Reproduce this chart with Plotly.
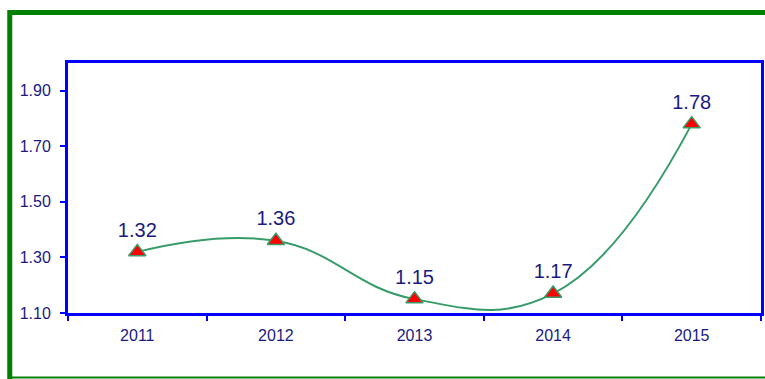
import plotly.graph_objects as go

years = ["2011", "2012", "2013", "2014", "2015"]
values = [1.32, 1.36, 1.15, 1.17, 1.78]
labels = ["1.32", "1.36", "1.15", "1.17", "1.78"]
y_ticks = [1.10, 1.30, 1.50, 1.70, 1.90]

W, H = 765, 379
L, T, R, B = 68, 63, 1, 66
pw = W - L - R
ph = H - T - B

def px_x(p):
    return (p - L) / pw

def px_y(p):
    return (H - B - p) / ph

fig = go.Figure()
fig.add_trace(go.Scatter(
    x=years, y=values, mode="lines+markers+text",
    line=dict(color="#389c6a", width=2, shape="spline", smoothing=1.25),
    marker=dict(symbol="triangle-up", size=15, color="#ff0000",
                line=dict(color="#389c6a", width=1.5)),
    text=labels, textposition="top center",
    textfont=dict(family="Liberation Sans, Arial", size=20, color="#1a1a80"),
    cliponaxis=False, showlegend=False, hoverinfo="skip",
))

# green frame
fig.add_shape(type="line", xref="paper", yref="paper",
              x0=px_x(9.5), x1=px_x(790), y0=px_y(12.5), y1=px_y(12.5),
              line=dict(color="#008000", width=5))
fig.add_shape(type="line", xref="paper", yref="paper",
              x0=px_x(9.5), x1=px_x(9.5), y0=px_y(10), y1=px_y(400),
              line=dict(color="#008000", width=5))
fig.add_shape(type="line", xref="paper", yref="paper",
              x0=px_x(9.5), x1=px_x(790), y0=px_y(377.5), y1=px_y(377.5),
              line=dict(color="#008000", width=2))

fig.update_layout(
    width=W, height=H,
    margin=dict(l=L, r=R, t=T, b=B),
    paper_bgcolor="white", plot_bgcolor="white",
    font=dict(family="Liberation Sans, Arial", color="#1a1a80"),
    xaxis=dict(
        type="category", range=[-0.5, 4.5], showgrid=False,
        showline=True, linecolor="#0000ff", linewidth=3, mirror=True,
        ticks="outside", tickson="boundaries", ticklen=5, tickcolor="#0000ff", tickwidth=2,
        tickfont=dict(size=16, color="#1a1a80"), ticklabelstandoff=6,
    ),
    yaxis=dict(
        range=[1.10, 2.0], tickvals=y_ticks, ticktext=[f"{v:.2f}" for v in y_ticks],
        showgrid=False, zeroline=False,
        showline=True, linecolor="#0000ff", linewidth=3, mirror=True,
        ticks="outside", ticklen=5, tickcolor="#0000ff", tickwidth=2,
        tickfont=dict(size=16, color="#1a1a80"), ticklabelstandoff=6,
    ),
)

fig.write_html(
    "out.html",
    config={"displayModeBar": False},
    post_script="document.body.style.margin='0';document.body.style.overflow='hidden';",
)
